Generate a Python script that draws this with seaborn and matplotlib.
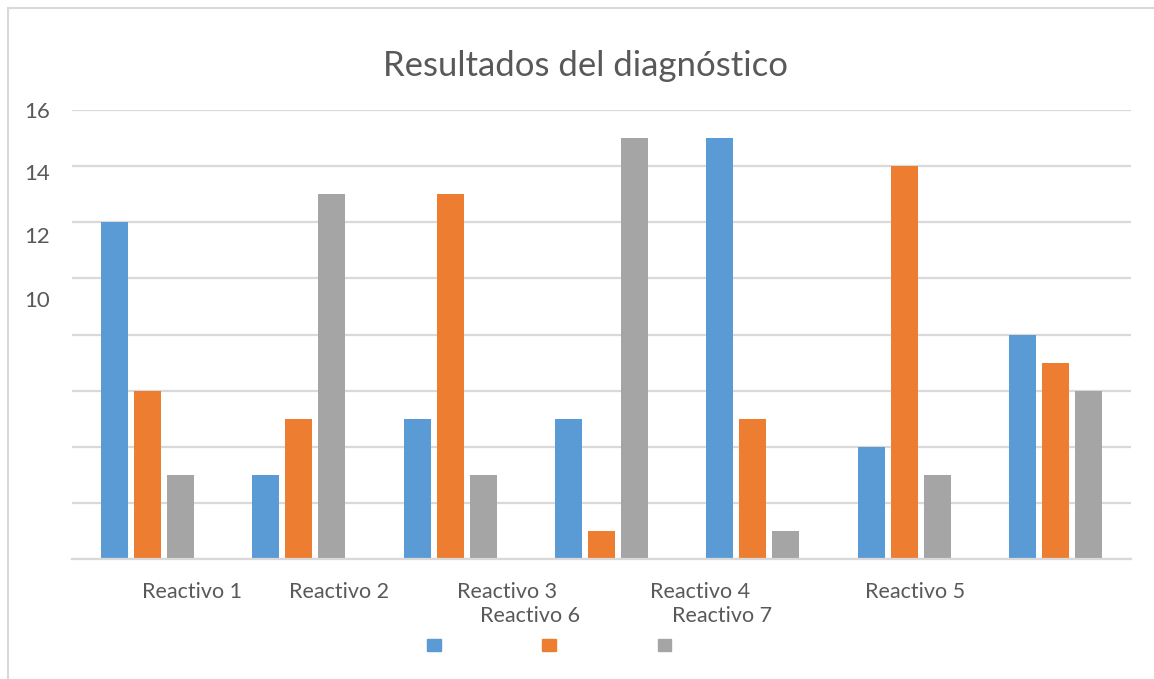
import pandas as pd
import matplotlib.pyplot as plt
from matplotlib.lines import Line2D
from matplotlib.transforms import ScaledTranslation
import seaborn as sns

reactivos = ['Reactivo 1', 'Reactivo 2', 'Reactivo 3', 'Reactivo 4',
             'Reactivo 5', 'Reactivo 6', 'Reactivo 7']
serie1 = [12, 3, 5, 5, 15, 4, 8]
serie2 = [6, 5, 13, 1, 5, 14, 7]
serie3 = [3, 13, 3, 15, 1, 3, 6]
series = ['Serie 1', 'Serie 2', 'Serie 3']
y_ticks = [0, 2, 4, 6, 8, 10, 12, 14, 16]
y_labels = ['', '', '', '', '', '10', '12', '14', '16']

# where the category labels sit (pixels), they are not under the groups in the original
label_pos = [(192, 592), (339, 592), (507, 592), (700, 592), (915, 592), (530, 616), (722, 616)]
# the y labels drift down from their gridlines in the original (pixels)
label_drift = [0, 0, 0, 0, 0, 21, 13, 6, 0]

colores = ['#5B9BD5', '#ED7D31', '#A5A5A5']
W, H = 1154, 679

df = pd.DataFrame({'reactivo': reactivos * 3,
                   'serie': [s for s in series for _ in reactivos],
                   'valor': serie1 + serie2 + serie3})

sns.set_style('white')
plt.rcParams['font.family'] = ['Lato', 'DejaVu Sans']

fig = plt.figure(figsize=(W / 100, H / 100), dpi=100)
ax = fig.add_axes([72 / W, 1 - 559 / H, (1131 - 72) / W, (559 - 110) / H])
sns.barplot(data=df, x='reactivo', y='valor', hue='serie', order=reactivos, hue_order=series,
            palette=colores, width=0.654, gap=0.18, saturation=1, linewidth=0,
            ax=ax, legend=False)

ax.set_xlim(-0.5, 6.5)
ax.set_ylim(0, 16)
ax.set_yticks(y_ticks)
ax.set_yticklabels(y_labels, fontsize=16, color='#595959')
ax.set_xticks([])
ax.set_xlabel('')
ax.set_ylabel('')
ax.tick_params(axis='y', length=0, pad=16)
for lab, d in zip(ax.get_yticklabels(), label_drift):
    lab.set_transform(lab.get_transform() + ScaledTranslation(0, -d / 100, fig.dpi_scale_trans))
ax.yaxis.grid(True, color='#d9d9d9', linewidth=1.6)
ax.set_axisbelow(True)
for s in ['top', 'right', 'left']:
    ax.spines[s].set_visible(False)
ax.spines['bottom'].set_color('#d9d9d9')
ax.spines['bottom'].set_linewidth(1.6)

for txt, (px, py) in zip(reactivos, label_pos):
    fig.text(px / W, 1 - py / H, txt, ha='center', va='center', fontsize=15.5, color='#595959')

fig.text(585 / W, 1 - 66 / H, 'Resultados del diagnóstico', ha='center', va='center',
         fontsize=25, color='#595959')

handles = [plt.Rectangle((0, 0), 1, 1, color=c) for c in colores]
fig.legend(handles, ['', '', ''], loc='center', bbox_to_anchor=(552 / W, 1 - 645 / H), ncol=3,
           frameon=False, handlelength=1.0, handleheight=1.0, handletextpad=0.4,
           columnspacing=6.9, fontsize=10)

# chart frame, only left and top edges show
fig.add_artist(Line2D([8 / W, 8 / W], [0, 1 - 8 / H], color='#d9d9d9', linewidth=1.5))
fig.add_artist(Line2D([8 / W, 1], [1 - 8 / H, 1 - 8 / H], color='#d9d9d9', linewidth=1.5))

fig.savefig('out.png', dpi=100, facecolor='white')
